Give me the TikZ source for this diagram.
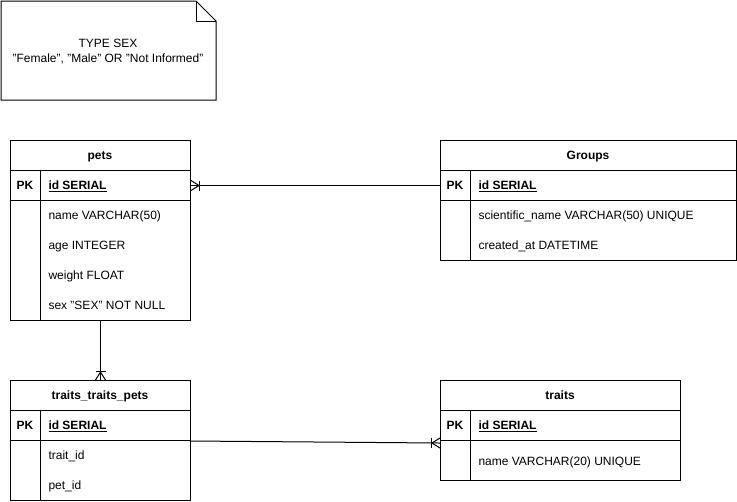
\documentclass[tikz,border=0pt]{standalone}
\usepackage{fontspec}
\setmainfont{Liberation Sans}
\usetikzlibrary{calc}
\newcommand{\dq}{\char"22\relax}
\begin{document}
\begin{tikzpicture}[x=0.75pt,y=-0.75pt,line width=0.75pt,font=\fontsize{9}{11.25}\selectfont,
  tbl/.style={draw,inner sep=0,anchor=north west},
  txt/.style={anchor=base west,inner sep=0},
  ctr/.style={inner sep=0},
  hdr/.style={anchor=base,inner sep=0,font=\fontsize{9}{11.25}\selectfont\bfseries},
  pk/.style={anchor=base,inner sep=0,font=\fontsize{9}{11.25}\selectfont\bfseries},
  conn/.style={draw,line width=0.75pt}]
\useasboundingbox (0,0) rectangle (737,501);
% note
\draw (1,1) -- (196,1) -- (216,21) -- (216,100) -- (1,100) -- cycle;
\draw (196,1) -- (196,21) -- (216,21);
\node[ctr,align=center] (note) at (108,51.5) {TYPE SEX\\\dq Female\dq, \dq Male\dq\ OR \dq Not Informed\dq};
% pets
\node[tbl,minimum width=135pt,minimum height=135pt] (pets) at (10,140) {};
\node[tbl,minimum width=135pt,minimum height=22.5pt] (petsH) at (10,140) {};
\node[tbl,minimum width=135pt,minimum height=22.5pt] (petsPK) at (10,170) {};
\draw (40,170) -- (40,320);
\node[hdr] (petsT) at (100,159.5) {pets};
\node[pk] (petsPKl) at (25,189.5) {PK};
\node[txt] (petsId) at (48,189.5) {\bfseries\underline{id SERIAL}};
\node[txt] (petsF1) at (48,219.5) {name VARCHAR(50)};
\node[txt] (petsF2) at (48,249.5) {age INTEGER};
\node[txt] (petsF3) at (48,279.5) {weight FLOAT};
\node[txt] (petsF4) at (48,309.5) {sex \dq SEX\dq\ NOT NULL};
% Groups
\node[tbl,minimum width=222pt,minimum height=90pt] (groups) at (440,140) {};
\node[tbl,minimum width=222pt,minimum height=22.5pt] (groupsH) at (440,140) {};
\node[tbl,minimum width=222pt,minimum height=22.5pt] (groupsPK) at (440,170) {};
\draw (470,170) -- (470,260);
\node[hdr] (groupsT) at (588,159.5) {Groups};
\node[pk] (groupsPKl) at (455,189.5) {PK};
\node[txt] (groupsId) at (478,189.5) {\bfseries\underline{id SERIAL}};
\node[txt] (groupsF1) at (478,219.5) {scientific\_name VARCHAR(50) UNIQUE};
\node[txt] (groupsF2) at (478,249.5) {created\_at DATETIME};
% traits_traits_pets
\node[tbl,minimum width=135pt,minimum height=90pt] (ttp) at (10,380) {};
\node[tbl,minimum width=135pt,minimum height=22.5pt] (ttpH) at (10,380) {};
\node[tbl,minimum width=135pt,minimum height=22.5pt] (ttpPK) at (10,410) {};
\draw (40,410) -- (40,500);
\node[hdr] (ttpT) at (100,399.5) {traits\_traits\_pets};
\node[pk] (ttpPKl) at (25,429.5) {PK};
\node[txt] (ttpId) at (48,429.5) {\bfseries\underline{id SERIAL}};
\node[txt] (ttpF1) at (48,459.5) {trait\_id};
\node[txt] (ttpF2) at (48,489.5) {pet\_id};
% traits
\node[tbl,minimum width=180pt,minimum height=75pt] (traits) at (440,380) {};
\node[tbl,minimum width=180pt,minimum height=22.5pt] (traitsH) at (440,380) {};
\node[tbl,minimum width=180pt,minimum height=22.5pt] (traitsPK) at (440,410) {};
\draw (470,410) -- (470,480);
\node[hdr] (traitsT) at (560,399.5) {traits};
\node[pk] (traitsPKl) at (455,429.5) {PK};
\node[txt] (traitsId) at (478,429.5) {\bfseries\underline{id SERIAL}};
\node[txt] (traitsF1) at (478,465) {name VARCHAR(20) UNIQUE};
% connector Groups -> pets
\draw[conn] (groupsPK.west) -- (petsPK.east);
\draw[conn] ($(petsPK.east)+(0,-5)$) -- ($(petsPK.east)+(8,0)$) -- ($(petsPK.east)+(0,5)$);
\draw[conn] ($(petsPK.east)+(8,-5)$) -- ($(petsPK.east)+(8,5)$);
% connector pets -> traits_traits_pets
\draw[conn] (pets.south) -- (ttp.north);
\draw[conn] ($(ttp.north)+(-5,0)$) -- ($(ttp.north)+(0,-8)$) -- ($(ttp.north)+(5,0)$);
\draw[conn] ($(ttp.north)+(-5,-9)$) -- ($(ttp.north)+(5,-9)$);
% connector traits_traits_pets -> traits
\coordinate (c3a) at ($(ttp.north east)+(0,61)$);
\coordinate (c3b) at ($(traits.north west)+(0,63)$);
\draw[conn] (c3a) -- (c3b);
\draw[conn] ($(c3b)+(0,-5)$) -- ($(c3b)+(-8,0)$) -- ($(c3b)+(0,5)$);
\draw[conn] ($(c3b)+(-9,-5)$) -- ($(c3b)+(-9,5)$);
\end{tikzpicture}
\end{document}
